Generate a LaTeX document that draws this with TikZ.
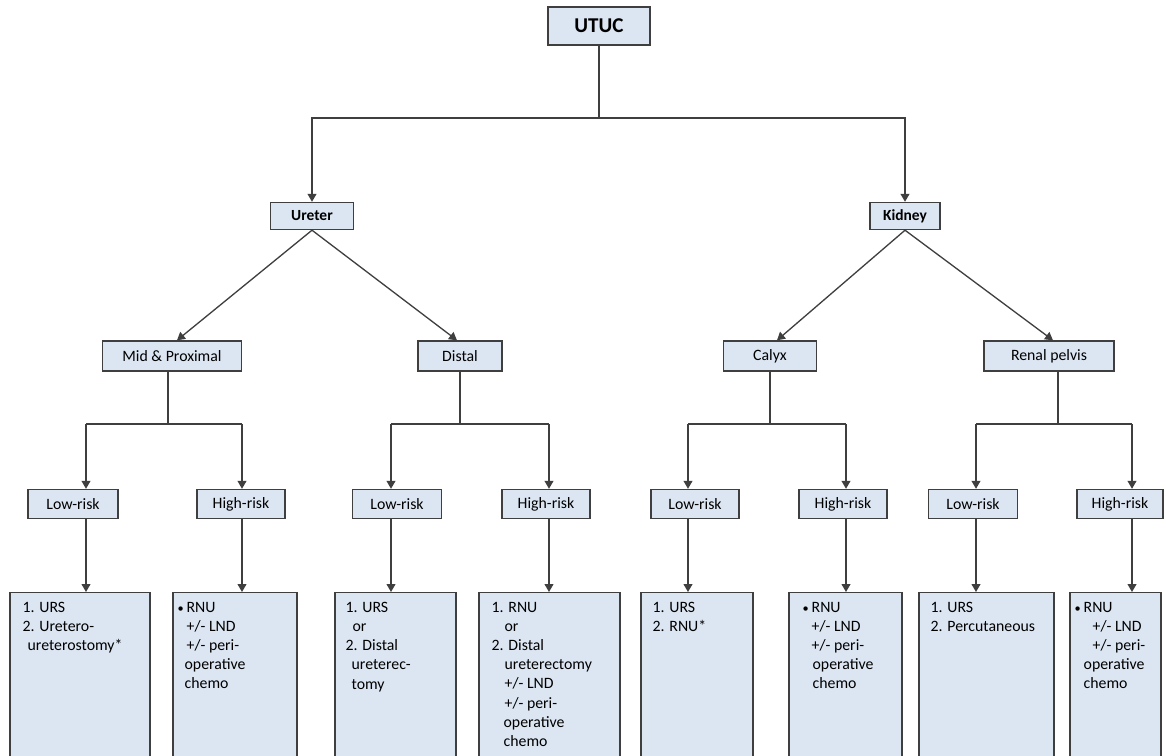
\documentclass[tikz,border=0pt]{standalone}
\usepackage{fontspec}
\setmainfont{Carlito}
\usetikzlibrary{arrows.meta}
\definecolor{boxfill}{HTML}{DCE6F2}
\definecolor{boxline}{HTML}{3F3F3F}
\newlength{\pxlen}
\setlength{\pxlen}{0.2mm}
\newcommand{\bul}{\makebox[9\pxlen][l]{\fontsize{7}{7}\selectfont•}}

\begin{document}
\begin{tikzpicture}[x=0.02cm, y=-0.02cm,
		box/.style={draw=boxline, fill=boxfill, line width=0.8pt, inner sep=0pt, font=\fontsize{9}{11}\selectfont},
		head/.style={box, font=\bfseries\fontsize{8.8}{10}\selectfont},
		risk/.style={box, minimum height=0.58cm},
		leaf/.style={box, anchor=north, minimum height=3.4cm},
		list/.style={anchor=north west, inner sep=0pt, align=left, font=\fontsize{9}{10.95}\selectfont},
		link/.style={draw=boxline, line width=0.75pt},
		tip/.style={link, -{Triangle[length=4.5pt,width=5pt]}}]
		\useasboundingbox (0,0) rectangle (1166,755);
		\clip (0,0) rectangle (1166,755);

		% top levels
		\node[box, minimum width=2.04cm, minimum height=0.76cm, font=\bfseries\fontsize{12}{14}\selectfont] (utuc) at (599,26) {UTUC};
		\node[head, minimum width=1.66cm, minimum height=0.54cm] (ureter) at (312,216) {Ureter};
		\node[head, minimum width=1.4cm, minimum height=0.54cm] (kidney) at (905,216) {Kidney};

		\node[box, minimum width=2.78cm, minimum height=0.6cm] (midprox) at (172,356) {Mid \& Proximal};
		\node[box, minimum width=1.68cm, minimum height=0.6cm] (distal) at (460,356) {Distal};
		\node[box, minimum width=1.86cm, minimum height=0.6cm] (calyx) at (770,356) {Calyx};
		\node[box, minimum width=2.6cm, minimum height=0.6cm] (pelvis) at (1049,356) {Renal pelvis};

		% risk groups
		\node[risk, minimum width=1.8cm] (low1) at (73,504) {Low-risk};
		\node[risk, minimum width=1.76cm] (high1) at (241,504) {High-risk};
		\node[risk, minimum width=1.78cm] (low2) at (397,504) {Low-risk};
		\node[risk, minimum width=1.76cm] (high2) at (546,504) {High-risk};
		\node[risk, minimum width=1.76cm] (low3) at (695,504) {Low-risk};
		\node[risk, minimum width=1.76cm] (high3) at (843,504) {High-risk};
		\node[risk, minimum width=1.78cm] (low4) at (973,504) {Low-risk};
		\node[risk, minimum width=1.72cm] (high4) at (1120,504) {High-risk};

		% treatment boxes
		\node[leaf, minimum width=2.8cm] (treat1) at (80,592) {};
		\node[leaf, minimum width=2.48cm] (treat2) at (235,592) {};
		\node[leaf, minimum width=2.42cm] (treat3) at (395.5,592) {};
		\node[leaf, minimum width=2.82cm] (treat4) at (549.5,592) {};
		\node[leaf, minimum width=2.24cm] (treat5) at (697,592) {};
		\node[leaf, minimum width=2.26cm] (treat6) at (845.5,592) {};
		\node[leaf, minimum width=2.7cm] (treat7) at (986.5,592) {};
		\node[leaf, minimum width=1.82cm] (treat8) at (1115.5,592) {};

		\node[list] (text1) at ([yshift=-0.19cm]treat1.north west) {%
			\hspace*{13\pxlen}1. URS\\
			\hspace*{13\pxlen}2. Uretero-\\
			\hspace*{18\pxlen}ureterostomy*};
		\node[list] (text2) at ([yshift=-0.19cm]treat2.north west) {%
			\hspace*{5\pxlen}\bul RNU\\
			\hspace*{14\pxlen}+/- LND\\
			\hspace*{14\pxlen}+/- peri-\\
			\hspace*{12\pxlen}operative\\
			\hspace*{12\pxlen}chemo};
		\node[list] (text3) at ([yshift=-0.19cm]treat3.north west) {%
			\hspace*{11\pxlen}1. URS\\
			\hspace*{18\pxlen}or\\
			\hspace*{11\pxlen}2. Distal\\
			\hspace*{17\pxlen}ureterec-\\
			\hspace*{17\pxlen}tomy};
		\node[list] (text4) at ([yshift=-0.19cm]treat4.north west) {%
			\hspace*{13\pxlen}1. RNU\\
			\hspace*{26\pxlen}or\\
			\hspace*{13\pxlen}2. Distal\\
			\hspace*{26\pxlen}ureterectomy\\
			\hspace*{26\pxlen}+/- LND\\
			\hspace*{26\pxlen}+/- peri-\\
			\hspace*{25\pxlen}operative\\
			\hspace*{25\pxlen}chemo};
		\node[list] (text5) at ([yshift=-0.19cm]treat5.north west) {%
			\hspace*{12\pxlen}1. URS\\
			\hspace*{12\pxlen}2. RNU*};
		\node[list] (text6) at ([yshift=-0.19cm]treat6.north west) {%
			\hspace*{14\pxlen}\bul RNU\\
			\hspace*{23\pxlen}+/- LND\\
			\hspace*{23\pxlen}+/- peri-\\
			\hspace*{24\pxlen}operative\\
			\hspace*{24\pxlen}chemo};
		\node[list] (text7) at ([yshift=-0.19cm]treat7.north west) {%
			\hspace*{12\pxlen}1. URS\\
			\hspace*{12\pxlen}2. Percutaneous};
		\node[list] (text8) at ([yshift=-0.19cm]treat8.north west) {%
			\hspace*{5\pxlen}\bul RNU\\
			\hspace*{23\pxlen}+/- LND\\
			\hspace*{23\pxlen}+/- peri-\\
			\hspace*{14\pxlen}operative\\
			\hspace*{14\pxlen}chemo};

		% connectors
		\coordinate (fork) at (599,118);
		\draw[link] (utuc) -- (fork);
		\draw[tip] (fork) -| (ureter.north);
		\draw[tip] (fork) -| (kidney.north);

		\draw[tip] (ureter.south) -- ([xshift=0.1cm]midprox.north);
		\draw[tip] (ureter.south) -- ([xshift=-0.06cm]distal.north);
		\draw[tip] (kidney.south) -- ([xshift=0.14cm]calyx.north);
		\draw[tip] (kidney.south) -- ([xshift=0.08cm]pelvis.north);

		\coordinate (col1) at (86,424);
		\coordinate (col2) at (242,424);
		\coordinate (col3) at (391,424);
		\coordinate (col4) at (549,424);
		\coordinate (col5) at (688,424);
		\coordinate (col6) at (846,424);
		\coordinate (col7) at (976,424);
		\coordinate (col8) at (1132,424);

		\draw[link] ([xshift=-0.08cm]midprox.south) -- ([xshift=-0.08cm]midprox.south |- col1) (col1) -- (col2);
		\draw[link] (distal.south) -- (distal.south |- col3) (col3) -- (col4);
		\draw[link] (calyx.south) -- (calyx.south |- col5) (col5) -- (col6);
		\draw[link] ([xshift=0.18cm]pelvis.south) -- ([xshift=0.18cm]pelvis.south |- col7) (col7) -- (col8);

		\foreach \n in {1,3,5,7} {
			\pgfmathtruncatemacro{\m}{\n+1}
			\pgfmathtruncatemacro{\k}{(\n+1)/2}
			\draw[tip] (col\n) -- (col\n |- low\k.north);
			\draw[tip] (col\n |- low\k.south) -- (col\n |- treat\n.north);
			\draw[tip] (col\m) -- (col\m |- high\k.north);
			\draw[tip] (col\m |- high\k.south) -- (col\m |- treat\m.north);
		}
	\end{tikzpicture}
\end{document}
